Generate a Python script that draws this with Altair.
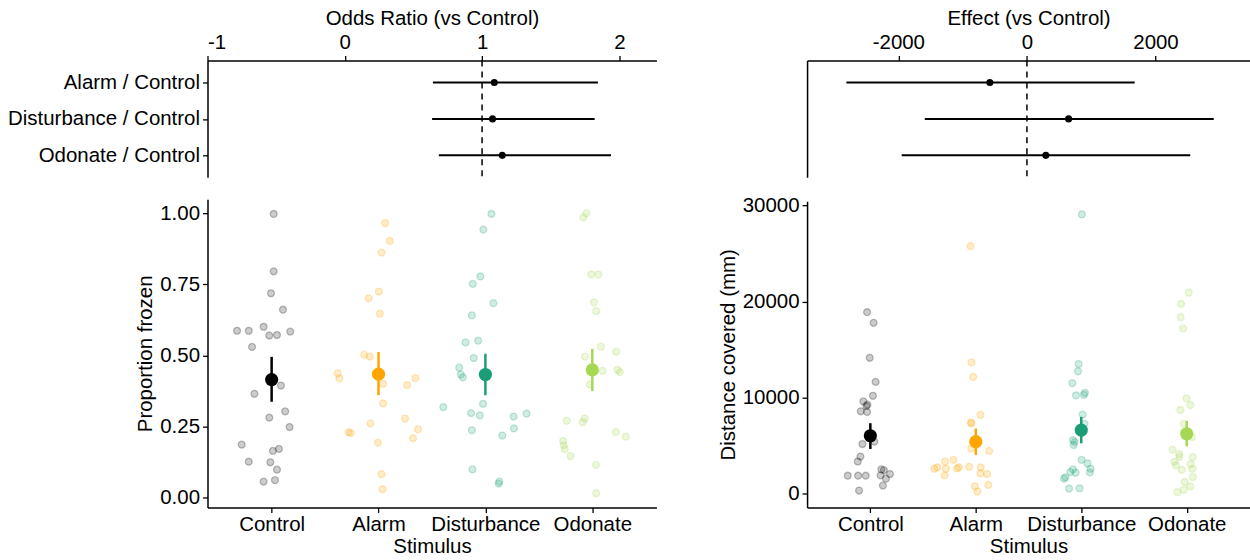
import altair as alt
import pandas as pd

# ---------------- data ----------------
stimuli = ["Control", "Alarm", "Disturbance", "Odonate"]
colors = ["#000000", "#FFA500", "#1B9E77", "#A6D854"]

# proportion frozen (raw points) and horizontal jitter (category units)
prop_control = [0.998, 0.796, 0.719, 0.661, 0.587, 0.587, 0.601, 0.570, 0.572, 0.584, 0.530, 0.394,
                0.365, 0.303, 0.281, 0.248, 0.186, 0.164, 0.171, 0.126, 0.124, 0.098, 0.056, 0.061]
jit_prop_control = [0.019, 0.019, -0.006, 0.106, -0.323, -0.214, -0.075, -0.022, 0.050, 0.174, -0.183, 0.087,
                    -0.161, 0.127, -0.022, 0.168, -0.280, 0.012, 0.068, -0.214, -0.012, 0.050, -0.075, 0.031]
prop_alarm = [0.966, 0.903, 0.862, 0.725, 0.701, 0.647, 0.503, 0.496, 0.437, 0.419, 0.400, 0.420,
              0.396, 0.331, 0.278, 0.261, 0.240, 0.209, 0.230, 0.227, 0.193, 0.082, 0.029]
jit_prop_alarm = [0.062, 0.106, 0.028, 0.003, -0.093, 0.012, -0.134, -0.081, -0.382, -0.366, 0.043, 0.345,
                  0.267, 0.043, 0.248, -0.075, 0.370, 0.323, -0.280, -0.261, -0.006, 0.028, 0.037]
prop_disturbance = [0.998, 0.943, 0.778, 0.752, 0.684, 0.641, 0.546, 0.552, 0.491, 0.457, 0.433, 0.423,
                    0.330, 0.318, 0.297, 0.289, 0.285, 0.295, 0.237, 0.243, 0.218, 0.099, 0.056, 0.049]
jit_prop_disturbance = [0.056, -0.019, -0.047, -0.118, 0.075, -0.127, -0.186, -0.068, -0.109, -0.245, -0.230, -0.211,
                        -0.022, -0.394, -0.134, -0.053, 0.264, 0.385, -0.127, 0.267, 0.158, -0.121, 0.130, 0.124]
prop_odonate = [1.000, 0.986, 0.785, 0.785, 0.687, 0.656, 0.531, 0.496, 0.513, 0.446, 0.449, 0.441,
                0.398, 0.270, 0.278, 0.265, 0.230, 0.214, 0.199, 0.184, 0.170, 0.146, 0.115, 0.015]
jit_prop_odonate = [-0.056, -0.084, -0.009, 0.056, 0.016, 0.037, 0.081, -0.068, 0.224, 0.096, 0.236, 0.258,
                    -0.025, -0.239, -0.071, -0.090, 0.220, 0.314, -0.273, -0.267, -0.258, -0.205, 0.034, 0.037]

prop_mean = [0.415, 0.434, 0.433, 0.449]
prop_lo = [0.337, 0.360, 0.360, 0.374]
prop_hi = [0.495, 0.512, 0.506, 0.523]

# distance covered (mm)
dist_control = [18886, 17785, 14138, 11627, 10182, 9598, 9254, 9116, 8566, 8497, 5160, 5401,
                3853, 3337, 2511, 2442, 2030, 1892, 1858, 1858, 1858, 1548, 826, 310]
jit_dist_control = [-0.031, 0.031, -0.006, 0.050, 0.025, -0.066, -0.028, -0.038, -0.091, -0.031, -0.075, 0.038,
                    -0.094, -0.119, 0.104, 0.129, 0.186, 0.097, -0.214, -0.116, -0.044, 0.148, 0.119, -0.107]
dist_alarm = [25766, 13657, 12143, 8187, 7396, 7300, 4713, 4438, 3337, 3509, 2580, 2718,
              2580, 2614, 2718, 2786, 2718, 1892, 2098, 2030, 894, 757, 206]
jit_dist_alarm = [-0.050, -0.041, -0.025, 0.044, -0.047, -0.041, -0.044, 0.126, -0.292, -0.211, -0.393, -0.365,
                  -0.283, -0.179, -0.160, -0.063, 0.047, -0.296, 0.044, 0.107, 0.119, -0.009, 0.016]
dist_disturbance = [29068, 13485, 12728, 11490, 10217, 10492, 10286, 8222, 7258, 5573, 5366, 5057,
                    3509, 3130, 2580, 2202, 2511, 2236, 2167, 1686, 1548, 516, 550]
jit_dist_disturbance = [0.006, -0.025, -0.031, -0.085, -0.050, 0.035, 0.025, 0.013, 0.031, -0.079, -0.063, -0.072,
                        0.003, 0.060, 0.088, 0.082, -0.079, -0.104, -0.053, -0.151, -0.164, -0.116, -0.016]
dist_odonate = [20915, 19746, 18370, 17200, 9907, 9219, 8703, 7258, 5883, 4575, 4094, 3818,
                3784, 3302, 2924, 3062, 2477, 2580, 1720, 1204, 757, 378, 138]
jit_dist_odonate = [0.019, -0.053, -0.057, -0.035, -0.003, 0.035, -0.060, -0.028, 0.050, -0.135, -0.072, -0.069,
                    0.057, -0.116, -0.101, 0.038, -0.047, 0.053, 0.057, -0.019, 0.035, -0.028, -0.088]

dist_mean = [6020, 5400, 6605, 6226]
dist_lo = [4644, 4025, 5229, 4919]
dist_hi = [7327, 6777, 7981, 7568]

# contrasts
contrasts = ["Alarm / Control", "Disturbance / Control", "Odonate / Control"]
or_est = [1.089, 1.076, 1.147]
or_lo = [0.642, 0.636, 0.685]
or_hi = [1.844, 1.820, 1.939]
eff_est = [-577, 648, 294]
eff_lo = [-2808, -1589, -1948]
eff_hi = [1676, 2906, 2541]

# ---------------- tables ----------------
def raw_table(lists, jits, name):
    rows = []
    for i, (vals, js) in enumerate(zip(lists, jits)):
        for v, j in zip(vals, js):
            rows.append({"stim": stimuli[i], "x": i + 1 + j, name: v})
    return pd.DataFrame(rows)

prop_df = raw_table([prop_control, prop_alarm, prop_disturbance, prop_odonate],
                    [jit_prop_control, jit_prop_alarm, jit_prop_disturbance, jit_prop_odonate], "val")
dist_df = raw_table([dist_control, dist_alarm, dist_disturbance, dist_odonate],
                    [jit_dist_control, jit_dist_alarm, jit_dist_disturbance, jit_dist_odonate], "val")
prop_sum = pd.DataFrame({"stim": stimuli, "x": [1, 2, 3, 4], "m": prop_mean, "lo": prop_lo, "hi": prop_hi})
dist_sum = pd.DataFrame({"stim": stimuli, "x": [1, 2, 3, 4], "m": dist_mean, "lo": dist_lo, "hi": dist_hi})
or_df = pd.DataFrame({"c": contrasts, "est": or_est, "lo": or_lo, "hi": or_hi})
eff_df = pd.DataFrame({"c": contrasts, "est": eff_est, "lo": eff_lo, "hi": eff_hi})

color_scale = alt.Scale(domain=stimuli, range=colors)
label_expr = "['','Control','Alarm','Disturbance','Odonate'][datum.value]"

W_L, W_R = 450, 444
H_TOP = 117


# ---------------- bottom panels ----------------
def bottom(raw, summ, ytitle, ydomain, yvals, yfmt, width, height):
    xenc = alt.X("x:Q", scale=alt.Scale(domain=[0.4, 4.6], nice=False, zero=False),
                 axis=alt.Axis(values=[1, 2, 3, 4], labelExpr=label_expr, title="Stimulus",
                               labelPadding=2, titlePadding=2))
    yscale = alt.Scale(domain=ydomain, nice=False, zero=False)
    pts = alt.Chart(raw).mark_circle(size=48, fillOpacity=0.2, strokeOpacity=0.24, strokeWidth=1.3).encode(
        x=xenc,
        y=alt.Y("val:Q", scale=yscale, axis=alt.Axis(values=yvals, format=yfmt, title=ytitle)),
        color=alt.Color("stim:N", scale=color_scale, legend=None),
        stroke=alt.Stroke("stim:N", scale=color_scale, legend=None),
    )
    bars = alt.Chart(summ).mark_rule(strokeWidth=2.5).encode(
        x="x:Q", y=alt.Y("lo:Q", scale=yscale), y2="hi:Q",
        color=alt.Color("stim:N", scale=color_scale, legend=None),
    )
    means = alt.Chart(summ).mark_circle(size=175, opacity=1).encode(
        x="x:Q", y=alt.Y("m:Q", scale=yscale),
        color=alt.Color("stim:N", scale=color_scale, legend=None),
    )
    return alt.layer(pts, bars, means).properties(width=width, height=height)


# ---------------- top panels ----------------
def top(df, xtitle, xdomain, xvals, ref, width, show_labels):
    xscale = alt.Scale(domain=xdomain, nice=False, zero=False)
    yenc = alt.Y("c:N", sort=contrasts, scale=alt.Scale(type="point", padding=0.6),
                 axis=alt.Axis(title=None, labels=show_labels, ticks=show_labels, labelLimit=400))
    dash = alt.Chart(pd.DataFrame({"r": [ref]})).mark_rule(strokeDash=[6, 5], strokeWidth=1.5, color="black").encode(
        x=alt.X("r:Q", scale=xscale))
    lines = alt.Chart(df).mark_rule(strokeWidth=2, color="black").encode(
        x=alt.X("lo:Q", scale=xscale, axis=alt.Axis(orient="top", values=xvals, title=xtitle,
                                                     labelExpr="datum.value + ''")),
        x2="hi:Q", y=yenc)
    dots = alt.Chart(df).mark_circle(size=50, opacity=1, color="black").encode(
        x=alt.X("est:Q", scale=xscale), y=yenc)
    return alt.layer(dash, lines, dots).properties(width=width, height=H_TOP)


top_l = top(or_df, "Odds Ratio (vs Control)", [-1, 2.27], [-1, 0, 1, 2], 1, W_L, True)
top_r = top(eff_df, "Effect (vs Control)", [-3420, 3470], [-2000, 0, 2000], 0, W_R, False)
bot_l = bottom(prop_df, prop_sum, "Proportion frozen", [-0.035, 1.05], [0, 0.25, 0.5, 0.75, 1.0], ".2f",
               W_L, 309)
bot_r = bottom(dist_df, dist_sum, "Distance covered (mm)", [-1450, 30450], [0, 10000, 20000, 30000], "d",
               W_R, 307)

left = alt.vconcat(top_l, bot_l, spacing=21)
right = alt.vconcat(top_r, bot_r, spacing=17)

chart = alt.hconcat(left, right, spacing=61).properties(
    padding={"left": 7, "top": 8, "right": 0, "bottom": 0}
).configure_view(stroke=None).configure_axis(
    grid=False, domainColor="black", domainWidth=1.5, tickColor="black", tickWidth=1.3, tickSize=5,
    labelFont="Liberation Sans", labelFontSize=20.5, labelColor="black", labelPadding=3,
    titleFont="Liberation Sans", titleFontSize=20.5, titleFontWeight="normal", titleColor="black",
)

chart.save("out.html", embed_options={"renderer": "svg", "actions": False})
